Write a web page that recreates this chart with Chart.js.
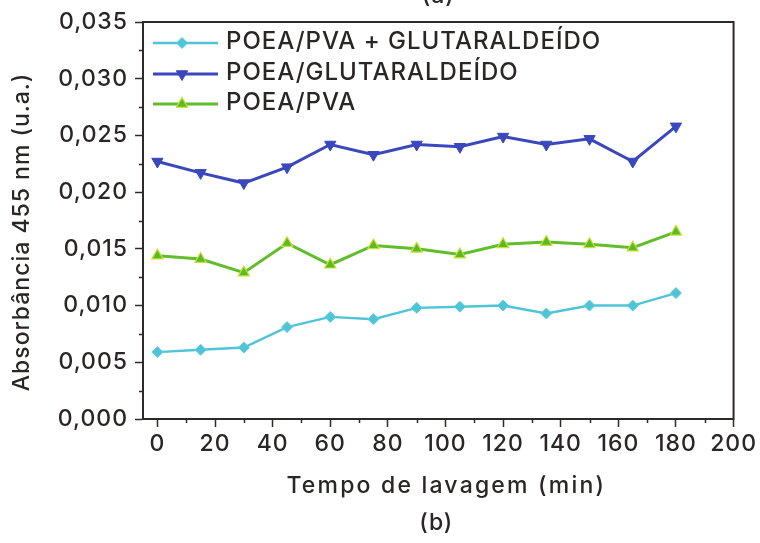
<!DOCTYPE html>
<html>
<head>
<meta charset="utf-8">
<script src="https://cdn.jsdelivr.net/npm/chart.js@4/dist/chart.umd.min.js"></script>
<style>
  html, body { margin: 0; padding: 0; background: #ffffff; }
  canvas { display: block; }
</style>
</head>
<body>
<canvas id="chart" width="760" height="543"></canvas>
<script>
// Washing time (min)
const tempo = [0, 15, 30, 45, 60, 75, 90, 105, 120, 135, 150, 165, 180];

// Absorbance at 455 nm (a.u.)
const absPvaGlut = [0.0059, 0.0061, 0.0063, 0.0081, 0.0090, 0.0088, 0.0098, 0.0099, 0.0100, 0.0093, 0.0100, 0.0100, 0.0111];
const absGlut    = [0.0227, 0.0217, 0.0208, 0.0222, 0.0242, 0.0233, 0.0242, 0.0240, 0.0249, 0.0242, 0.0247, 0.0227, 0.0258];
const absPva     = [0.0144, 0.0141, 0.0129, 0.0155, 0.0136, 0.0153, 0.0150, 0.0145, 0.0154, 0.0156, 0.0154, 0.0151, 0.0165];

const seriesNames = ['POEA/PVA + GLUTARALDEÍDO', 'POEA/GLUTARALDEÍDO', 'POEA/PVA'];

const xTitle = 'Tempo de lavagem (min)';
const yTitle = 'Absorbância 455 nm (u.a.)';
const panelTop = '(a)';
const panelBottom = '(b)';

const FONT = "Inter, 'Liberation Sans', Arial, sans-serif";
const WEIGHT = 500;
const INK = '#2b2626';
const AXIS = '#2f2a2a';
const SPACING = '1px';

function pairs(ys) { return tempo.map((t, i) => ({ x: t, y: ys[i] })); }

// Slight tracking on every text run
const trackingPlugin = {
  id: 'tracking',
  beforeLayout(chart) { chart.ctx.letterSpacing = SPACING; },
  beforeDraw(chart) { chart.ctx.letterSpacing = SPACING; }
};

// Closed frame, minor ticks, axis titles, panel marks
const framePlugin = {
  id: 'frame',
  afterDraw(chart) {
    const { ctx, chartArea: a, scales } = chart;
    ctx.save();
    ctx.strokeStyle = AXIS;
    ctx.lineWidth = 2;
    ctx.beginPath();
    ctx.moveTo(a.left - 1, a.top);
    ctx.lineTo(a.right, a.top);
    ctx.lineTo(a.right, a.bottom + 1);
    ctx.stroke();

    // minor ticks
    ctx.lineWidth = 1.5;
    ctx.beginPath();
    for (let v = 0.0025; v < 0.035; v += 0.005) {
      const py = Math.round(scales.y.getPixelForValue(v)) + 0.5;
      ctx.moveTo(a.left - 4, py);
      ctx.lineTo(a.left, py);
    }
    for (let v = 10; v < 200; v += 20) {
      const px = Math.round(scales.x.getPixelForValue(v)) + 0.5;
      ctx.moveTo(px, a.bottom);
      ctx.lineTo(px, a.bottom + 4);
    }
    ctx.stroke();

    ctx.fillStyle = INK;
    ctx.font = WEIGHT + ' 23px ' + FONT;
    ctx.textAlign = 'center';
    ctx.textBaseline = 'middle';
    const cx = (a.left + a.right) / 2 + 6;

    // horizontal axis title and panel mark
    ctx.letterSpacing = '2.2px';
    ctx.fillText(xTitle, cx + 2, 486);
    ctx.letterSpacing = SPACING;
    ctx.fillText(panelBottom, cx - 8, 523);

    // vertical axis title
    ctx.save();
    ctx.translate(22, 232);
    ctx.rotate(-Math.PI / 2);
    ctx.fillText(yTitle, 0, 0);
    ctx.restore();

    // panel mark above the frame
    ctx.textBaseline = 'alphabetic';
    ctx.fillText(panelTop, cx - 6, 3);
    ctx.restore();
  }
};

// Legend drawn inside the plot, line-marker-line samples
const insideLegend = {
  id: 'insideLegend',
  afterDatasetsDraw(chart) {
    const { ctx } = chart;
    const rows = [43, 74, 104];
    ctx.save();
    ctx.letterSpacing = SPACING;
    chart.data.datasets.forEach((ds, i) => {
      const y = rows[i];
      ctx.strokeStyle = ds.borderColor;
      ctx.lineWidth = ds.borderWidth;
      ctx.beginPath();
      ctx.moveTo(153, y);
      ctx.lineTo(218, y);
      ctx.stroke();
      ctx.fillStyle = ds.pointBackgroundColor;
      ctx.strokeStyle = ds.pointBorderColor;
      ctx.lineWidth = ds.pointBorderWidth;
      Chart.helpers.drawPoint(ctx, {
        pointStyle: ds.pointStyle,
        rotation: ds.pointRotation || 0,
        radius: ds.pointRadius,
        borderWidth: ds.pointBorderWidth
      }, 182, y);
      ctx.fillStyle = INK;
      ctx.font = WEIGHT + ' 24px ' + FONT;
      ctx.textAlign = 'left';
      ctx.textBaseline = 'middle';
      ctx.fillText(ds.label, 226, y - 1);
    });
    ctx.restore();
  }
};

new Chart(document.getElementById('chart'), {
  type: 'line',
  data: {
    datasets: [
      {
        label: seriesNames[0],
        data: pairs(absPvaGlut),
        borderColor: '#4ec4d6',
        borderWidth: 2.4,
        pointStyle: 'rectRot',
        pointRadius: 5.5,
        pointBackgroundColor: '#4ec4d6',
        pointBorderColor: '#5fcfdd',
        pointBorderWidth: 1
      },
      {
        label: seriesNames[1],
        data: pairs(absGlut),
        borderColor: '#3a47bd',
        borderWidth: 3,
        pointStyle: 'triangle',
        pointRotation: 180,
        pointRadius: 6.5,
        pointBackgroundColor: '#3a47bd',
        pointBorderColor: '#3a47bd',
        pointBorderWidth: 1
      },
      {
        label: seriesNames[2],
        data: pairs(absPva),
        borderColor: '#62bd2c',
        borderWidth: 3,
        pointStyle: 'triangle',
        pointRadius: 6.5,
        pointBackgroundColor: '#5cba2a',
        pointBorderColor: '#c9e030',
        pointBorderWidth: 1.2
      }
    ]
  },
  options: {
    responsive: false,
    animation: false,
    devicePixelRatio: 1,
    layout: { padding: { left: 0, top: 22, right: 24, bottom: 0 } },
    plugins: { legend: { display: false }, tooltip: { enabled: false } },
    elements: { line: { tension: 0 } },
    scales: {
      x: {
        type: 'linear',
        min: -5,
        max: 200,
        afterFit(scale) { scale.height = 124; },
        ticks: {
          stepSize: 20,
          includeBounds: false,
          color: INK,
          padding: 3,
          maxRotation: 0,
          font: { family: FONT, size: 23, weight: WEIGHT }
        },
        grid: { drawOnChartArea: false, drawTicks: true, tickLength: 8, tickColor: AXIS, tickWidth: 1.5 },
        border: { display: true, color: AXIS, width: 2 }
      },
      y: {
        type: 'linear',
        min: 0,
        max: 0.035,
        afterFit(scale) { scale.width = 143; },
        ticks: {
          stepSize: 0.005,
          color: INK,
          padding: 7,
          font: { family: FONT, size: 23, weight: WEIGHT },
          callback: (v) => v.toFixed(3).replace('.', ',')
        },
        grid: { drawOnChartArea: false, drawTicks: true, tickLength: 8, tickColor: AXIS, tickWidth: 1.5 },
        border: { display: true, color: AXIS, width: 2 }
      }
    }
  },
  plugins: [trackingPlugin, framePlugin, insideLegend]
});
</script>
</body>
</html>
